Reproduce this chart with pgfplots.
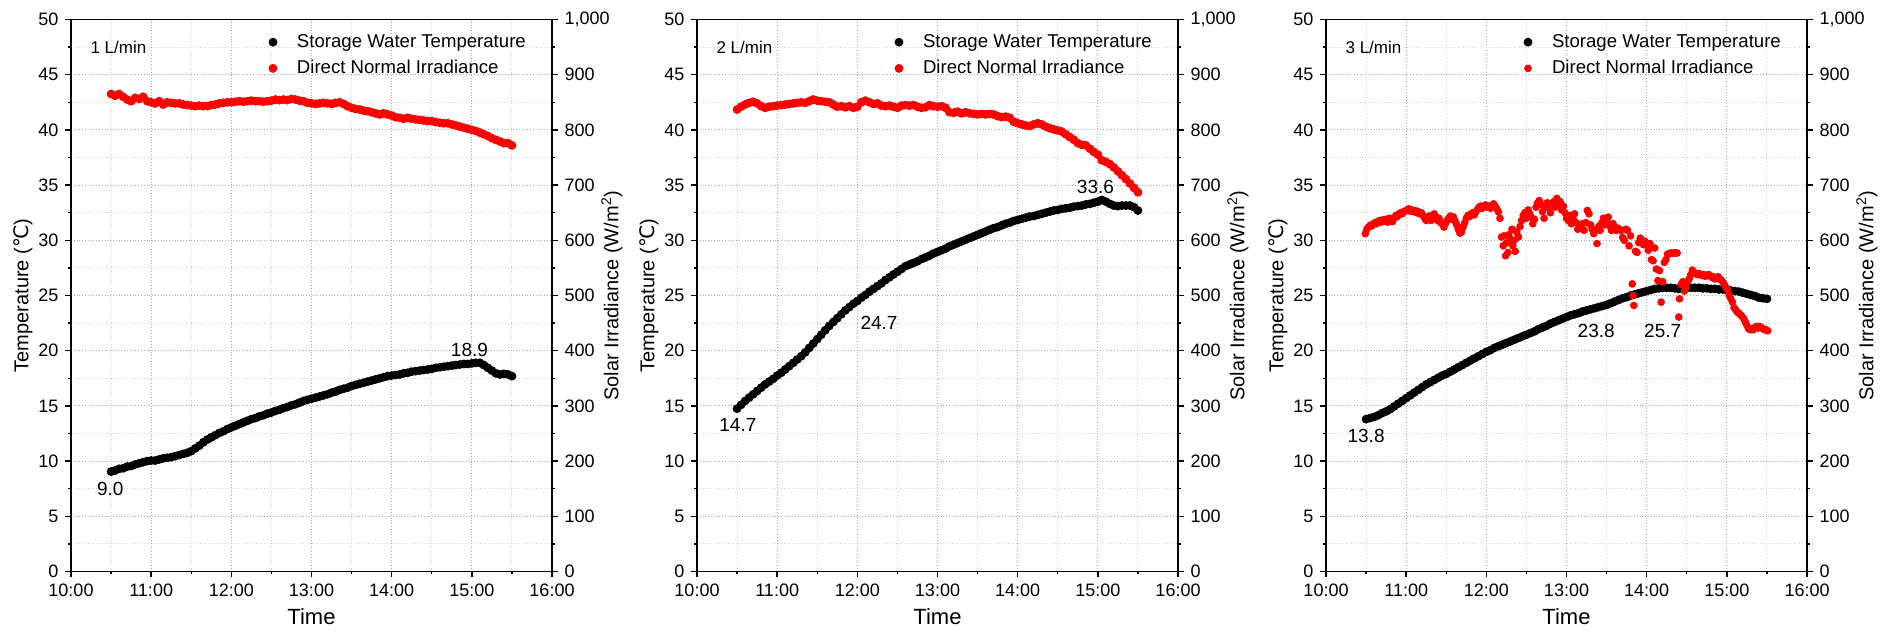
\documentclass[border=0pt]{standalone}
\usepackage{fontspec}
\setmainfont{Liberation Sans}
\newfontfamily\dejavu{DejaVu Sans}
\usepackage{pgfplots}
\usepackage{pgfplotstable}
\pgfplotsset{compat=1.18}

% ---------- 1 L/min ----------
\pgfplotstableread{
t T
10.50 9.05
10.55 9.15
10.60 9.30
10.65 9.35
10.70 9.50
10.75 9.55
10.80 9.70
10.85 9.80
10.90 9.90
10.95 10.00
11.00 10.05
11.05 10.05
11.10 10.15
11.15 10.25
11.20 10.30
11.25 10.35
11.30 10.45
11.35 10.55
11.40 10.65
11.45 10.75
11.50 10.90
11.55 11.15
11.60 11.40
11.65 11.70
11.70 11.95
11.75 12.15
11.80 12.35
11.85 12.55
11.90 12.70
11.95 12.90
12.00 13.05
12.05 13.20
12.10 13.35
12.15 13.50
12.20 13.65
12.25 13.80
12.30 13.90
12.35 14.05
12.40 14.15
12.45 14.30
12.50 14.40
12.55 14.55
12.60 14.65
12.65 14.80
12.70 14.90
12.75 15.05
12.80 15.15
12.85 15.30
12.90 15.45
12.95 15.55
13.00 15.65
13.05 15.75
13.10 15.85
13.15 15.95
13.20 16.05
13.25 16.20
13.30 16.30
13.35 16.45
13.40 16.55
13.45 16.65
13.50 16.80
13.55 16.90
13.60 17.00
13.65 17.10
13.70 17.20
13.75 17.30
13.80 17.40
13.85 17.50
13.90 17.60
13.95 17.70
14.00 17.75
14.05 17.80
14.10 17.85
14.15 17.95
14.20 18.00
14.25 18.10
14.30 18.15
14.35 18.20
14.40 18.25
14.45 18.30
14.50 18.35
14.55 18.45
14.60 18.50
14.65 18.55
14.70 18.60
14.75 18.65
14.80 18.70
14.85 18.75
14.90 18.80
14.95 18.80
15.00 18.85
15.05 18.90
15.10 18.90
15.15 18.70
15.20 18.45
15.25 18.20
15.30 17.95
15.35 17.85
15.40 17.90
15.45 17.85
15.50 17.70
}\tempA

\pgfplotstableread{
t I
10.50 865
10.55 862
10.60 865
10.65 860
10.70 855
10.75 852
10.80 858
10.85 856
10.90 860
10.95 852
11.00 850
11.05 848
11.10 852
11.15 846
11.20 850
11.25 849
11.30 848
11.35 848
11.40 846
11.45 845
11.50 844
11.55 843
11.60 844
11.65 843
11.70 843
11.75 845
11.80 846
11.85 848
11.90 849
11.95 850
12.00 850
12.05 851
12.10 852
12.15 851
12.20 852
12.25 853
12.30 852
12.35 852
12.40 851
12.45 852
12.50 853
12.55 855
12.60 854
12.65 855
12.70 854
12.75 856
12.80 855
12.85 853
12.90 852
12.95 849
13.00 848
13.05 847
13.10 848
13.15 849
13.20 848
13.25 847
13.30 849
13.35 850
13.40 847
13.45 843
13.50 840
13.55 838
13.60 837
13.65 835
13.70 834
13.75 832
13.80 830
13.85 828
13.90 830
13.95 828
14.00 826
14.05 823
14.10 822
14.15 820
14.20 822
14.25 820
14.30 819
14.35 818
14.40 817
14.45 816
14.50 816
14.55 814
14.60 813
14.65 812
14.70 812
14.75 810
14.80 808
14.85 806
14.90 804
14.95 802
15.00 800
15.05 798
15.10 795
15.15 792
15.20 789
15.25 785
15.30 782
15.35 779
15.40 776
15.45 776
15.50 772
}\irrA

% ---------- 2 L/min ----------
\pgfplotstableread{
t T
10.50 14.75
10.55 15.10
10.60 15.45
10.65 15.75
10.70 16.05
10.75 16.35
10.80 16.65
10.85 16.95
10.90 17.20
10.95 17.45
11.00 17.75
11.05 18.00
11.10 18.30
11.15 18.60
11.20 18.90
11.25 19.20
11.30 19.50
11.35 19.85
11.40 20.25
11.45 20.65
11.50 21.05
11.55 21.45
11.60 21.85
11.65 22.25
11.70 22.60
11.75 22.95
11.80 23.30
11.85 23.65
11.90 23.95
11.95 24.25
12.00 24.50
12.05 24.80
12.10 25.05
12.15 25.35
12.20 25.60
12.25 25.85
12.30 26.10
12.35 26.40
12.40 26.65
12.45 26.90
12.50 27.15
12.55 27.40
12.60 27.65
12.65 27.80
12.70 27.95
12.75 28.10
12.80 28.30
12.85 28.45
12.90 28.60
12.95 28.80
13.00 28.95
13.05 29.10
13.10 29.25
13.15 29.45
13.20 29.60
13.25 29.75
13.30 29.90
13.35 30.05
13.40 30.20
13.45 30.35
13.50 30.50
13.55 30.65
13.60 30.80
13.65 30.95
13.70 31.10
13.75 31.20
13.80 31.35
13.85 31.50
13.90 31.60
13.95 31.75
14.00 31.85
14.05 31.95
14.10 32.05
14.15 32.15
14.20 32.20
14.25 32.30
14.30 32.40
14.35 32.50
14.40 32.60
14.45 32.70
14.50 32.75
14.55 32.85
14.60 32.90
14.65 32.95
14.70 33.05
14.75 33.10
14.80 33.15
14.85 33.25
14.90 33.30
14.95 33.40
15.00 33.50
15.05 33.65
15.10 33.50
15.15 33.30
15.20 33.15
15.25 33.10
15.30 33.15
15.35 33.15
15.40 33.15
15.45 33.00
15.50 32.70
}\tempB

\pgfplotstableread{
t I
10.50 837
10.55 842
10.60 846
10.65 849
10.70 851
10.75 848
10.80 843
10.85 840
10.90 842
10.95 843
11.00 844
11.05 845
11.10 846
11.15 847
11.20 848
11.25 849
11.30 850
11.35 849
11.40 852
11.45 855
11.50 853
11.55 852
11.60 851
11.65 850
11.70 846
11.75 842
11.80 843
11.85 841
11.90 843
11.95 840
12.00 842
12.05 850
12.10 853
12.15 850
12.20 847
12.25 848
12.30 844
12.35 843
12.40 844
12.45 842
12.50 840
12.55 844
12.60 845
12.65 844
12.70 845
12.75 842
12.80 840
12.85 841
12.90 845
12.95 843
13.00 842
13.05 843
13.10 840
13.15 832
13.20 831
13.25 833
13.30 830
13.35 832
13.40 830
13.45 829
13.50 828
13.55 829
13.60 828
13.65 829
13.70 828
13.75 825
13.80 823
13.85 824
13.90 822
13.95 815
14.00 812
14.05 810
14.10 808
14.15 807
14.20 810
14.25 812
14.30 810
14.35 806
14.40 803
14.45 801
14.50 799
14.55 797
14.60 792
14.65 787
14.70 782
14.75 776
14.80 773
14.85 772
14.90 766
14.95 760
15.00 755
15.05 745
15.10 742
15.15 738
15.20 732
15.25 725
15.30 718
15.35 711
15.40 703
15.45 695
15.50 687
}\irrB

% ---------- 3 L/min ----------
\pgfplotstableread{
t T
10.50 13.80
10.55 13.90
10.60 14.00
10.65 14.15
10.70 14.35
10.75 14.50
10.80 14.70
10.85 14.95
10.90 15.20
10.95 15.45
11.00 15.70
11.05 15.95
11.10 16.20
11.15 16.45
11.20 16.70
11.25 16.95
11.30 17.15
11.35 17.35
11.40 17.55
11.45 17.75
11.50 17.90
11.55 18.10
11.60 18.30
11.65 18.50
11.70 18.70
11.75 18.90
11.80 19.10
11.85 19.30
11.90 19.50
11.95 19.70
12.00 19.90
12.05 20.05
12.10 20.25
12.15 20.40
12.20 20.55
12.25 20.70
12.30 20.85
12.35 21.00
12.40 21.15
12.45 21.30
12.50 21.45
12.55 21.60
12.60 21.75
12.65 21.95
12.70 22.10
12.75 22.25
12.80 22.45
12.85 22.60
12.90 22.75
12.95 22.90
13.00 23.05
13.05 23.20
13.10 23.30
13.15 23.40
13.20 23.55
13.25 23.65
13.30 23.75
13.35 23.85
13.40 23.95
13.45 24.05
13.50 24.15
13.55 24.30
13.60 24.45
13.65 24.60
13.70 24.75
13.75 24.85
13.80 25.00
13.85 25.10
13.90 25.20
13.95 25.30
14.00 25.40
14.05 25.50
14.10 25.60
14.15 25.65
14.20 25.70
14.25 25.70
14.30 25.70
14.35 25.65
14.40 25.60
14.45 25.65
14.50 25.70
14.55 25.70
14.60 25.70
14.65 25.70
14.70 25.65
14.75 25.65
14.80 25.60
14.85 25.60
14.90 25.55
14.95 25.55
15.00 25.50
15.05 25.45
15.10 25.40
15.15 25.35
15.20 25.25
15.25 25.15
15.30 25.05
15.35 24.95
15.40 24.80
15.45 24.75
15.50 24.70
}\tempC

\pgfplotstableread{
t I
10.49 612
10.51 620
10.53 624
10.55 627
10.57 626
10.59 630
10.61 632
10.63 630
10.65 634
10.67 636
10.69 633
10.71 637
10.73 635
10.75 638
10.77 633
10.79 640
10.81 636
10.83 634
10.85 640
10.87 645
10.89 643
10.91 648
10.93 650
10.95 648
10.97 652
10.99 653
11.01 655
11.03 657
11.05 653
11.07 655
11.09 652
11.11 654
11.13 650
11.15 652
11.17 648
11.19 650
11.21 645
11.23 640
11.25 636
11.27 640
11.29 644
11.31 636
11.33 642
11.35 648
11.37 642
11.39 636
11.41 640
11.43 632
11.45 630
11.47 624
11.49 630
11.51 636
11.53 640
11.55 644
11.57 638
11.59 642
11.61 635
11.63 628
11.65 620
11.67 613
11.69 615
11.71 624
11.73 632
11.75 640
11.77 645
11.79 643
11.81 648
11.83 650
11.85 646
11.87 652
11.89 656
11.91 660
11.93 662
11.95 658
11.97 662
11.99 664
12.01 660
12.03 662
12.05 658
12.07 661
12.09 666
12.11 662
12.13 657
12.15 652
12.17 640
12.19 606
12.21 590
12.22 608
12.24 572
12.25 595
12.27 578
12.28 610
12.30 602
12.32 620
12.33 590
12.35 600
12.36 580
12.38 615
12.40 606
12.42 625
12.44 636
12.46 645
12.48 650
12.50 640
12.52 655
12.54 648
12.56 642
12.58 630
12.60 638
12.62 660
12.64 668
12.66 672
12.68 665
12.70 652
12.72 640
12.74 660
12.76 668
12.78 660
12.80 650
12.82 665
12.84 670
12.86 660
12.88 676
12.90 662
12.92 670
12.94 655
12.96 662
12.98 650
13.00 640
13.02 636
13.04 645
13.06 630
13.08 640
13.10 648
13.12 632
13.14 620
13.16 628
13.18 622
13.20 630
13.22 618
13.24 632
13.26 654
13.28 648
13.30 628
13.32 620
13.34 612
13.36 618
13.38 594
13.40 625
13.42 618
13.44 632
13.46 640
13.48 628
13.50 636
13.52 642
13.54 626
13.56 618
13.58 630
13.60 624
13.62 618
13.64 622
13.66 620
13.68 618
13.70 605
13.72 600
13.74 620
13.76 618
13.78 590
13.80 608
13.82 521
13.83 500
13.84 482
13.86 580
13.88 578
13.90 596
13.92 604
13.94 600
13.96 592
13.98 598
14.00 595
14.02 582
14.04 594
14.06 565
14.08 563
14.10 586
14.12 548
14.14 527
14.16 545
14.18 488
14.20 525
14.22 560
14.24 565
14.26 575
14.28 575
14.30 577
14.32 577
14.34 577
14.36 577
14.38 577
14.40 461
14.41 494
14.43 520
14.45 525
14.47 508
14.49 515
14.51 525
14.53 530
14.55 538
14.57 546
14.59 542
14.61 540
14.63 538
14.65 540
14.67 538
14.69 536
14.71 538
14.73 535
14.75 536
14.77 538
14.79 536
14.81 533
14.83 534
14.85 530
14.87 531
14.89 534
14.91 530
14.93 528
14.95 524
14.97 520
14.99 514
15.01 510
15.03 500
15.05 494
15.07 488
15.09 478
15.11 474
15.13 470
15.15 468
15.17 465
15.19 462
15.21 458
15.23 452
15.25 446
15.27 440
15.29 438
15.31 440
15.33 438
15.35 442
15.37 444
15.39 441
15.41 444
15.43 442
15.45 440
15.47 438
15.49 438
15.51 436
}\irrC

\tikzset{
  vlab/.style={font=\fontsize{9.5}{11}\selectfont},
  flow/.style={anchor=west, font=\fontsize{8.5}{10}\selectfont},
}

\pgfplotsset{
  common/.style={
    scale only axis, width=240.5pt, height=276pt,
    xmin=10, xmax=16,
    tick align=outside,
    major tick length=2.8pt, minor tick length=1.4pt,
    every tick/.style={black, line width=0.7pt},
    axis line style={line width=0.8pt},
    tick label style={font=\fontsize{9}{10}\selectfont},
    label style={font=\fontsize{11}{12}\selectfont},
    /pgf/number format/assume math mode=true,
  },
  leftax/.style={
    common,
    ymin=0, ymax=50,
    xtick={10,...,16},
    xticklabels={10:00,11:00,12:00,13:00,14:00,15:00,16:00},
    ytick={0,5,...,50},
    minor x tick num=1, minor y tick num=1,
    tick pos=left,
    grid=both,
    major grid style={densely dotted, gray!65, line width=0.5pt},
    minor grid style={densely dotted, gray!35, line width=0.5pt},
    xlabel={Time},
    ylabel={Temperature ({\dejavu ℃})},
    every axis y label/.style={at={(axis description cs:-0.0998,0.5)}, rotate=90, anchor=center},
    xlabel style={yshift=1pt},
  },
  rightax/.style={
    common,
    ymin=0, ymax=1000,
    axis x line=none, axis y line*=right,
    ytick={0,100,...,1000}, minor y tick num=1,
    yticklabel style={/pgf/number format/1000 sep={,}},
    ylabel={Solar Irradiance (W/m\textsuperscript{2})},
    every axis y label/.style={at={(axis description cs:1.1247,0.5)}, rotate=90, anchor=center},
    legend style={draw=none, fill=none, at={(axis description cs:0.39,0.985)},
      anchor=north west, font=\fontsize{9.3}{11}\selectfont,
      row sep=1pt, inner sep=1pt},
    legend cell align=left,
  },
  % a single dot, followed by an empty gap before the entry text
  dotlegend/.style={
    legend image code/.code={
      \draw[mark repeat=2, mark phase=2, ##1] plot coordinates {(0pt,0pt) (6pt,0pt) (12pt,0pt)};
      \path[draw=none, fill=none] (0pt,-2pt) rectangle (16pt,2pt);
    },
  },
  tser/.style={only marks, mark=*, mark size=2pt, black, dotlegend},
  iser/.style={only marks, mark=*, mark size=2pt, red, dotlegend},
  iscat/.style={only marks, mark=*, mark size=1.7pt, red, dotlegend},
}

\begin{document}
\begin{tikzpicture}

% ===== 1 L/min =====
\begin{axis}[leftax, at={(35.5pt,0pt)}, anchor=south west]
  \addplot[tser] table[x=t, y=T] {\tempA};
  \node[vlab] at (axis cs:10.49,7.5) {9.0};
  \node[vlab] at (axis cs:14.97,20.1) {18.9};
  \node[flow] at (axis description cs:0.026,0.949) {1 L/min};
\end{axis}
\begin{axis}[rightax, at={(35.5pt,0pt)}, anchor=south west]
  \addlegendimage{tser}
  \addlegendentry{Storage Water Temperature}
  \addplot[iser] table[x=t, y=I] {\irrA};
  \addlegendentry{Direct Normal Irradiance}
\end{axis}

% ===== 2 L/min =====
\begin{axis}[leftax, at={(348.5pt,0pt)}, anchor=south west]
  \addplot[tser] table[x=t, y=T] {\tempB};
  \node[vlab] at (axis cs:10.51,13.3) {14.7};
  \node[vlab] at (axis cs:12.27,22.5) {24.7};
  \node[vlab] at (axis cs:14.97,34.85) {33.6};
  \node[flow] at (axis description cs:0.026,0.949) {2 L/min};
\end{axis}
\begin{axis}[rightax, at={(348.5pt,0pt)}, anchor=south west]
  \addlegendimage{tser}
  \addlegendentry{Storage Water Temperature}
  \addplot[iser] table[x=t, y=I] {\irrB};
  \addlegendentry{Direct Normal Irradiance}
\end{axis}

% ===== 3 L/min =====
\begin{axis}[leftax, at={(663pt,0pt)}, anchor=south west]
  \addplot[tser] table[x=t, y=T] {\tempC};
  \node[vlab] at (axis cs:10.5,12.3) {13.8};
  \node[vlab] at (axis cs:13.37,21.8) {23.8};
  \node[vlab] at (axis cs:14.2,21.8) {25.7};
  \node[flow] at (axis description cs:0.026,0.949) {3 L/min};
\end{axis}
\begin{axis}[rightax, at={(663pt,0pt)}, anchor=south west]
  \addlegendimage{tser}
  \addlegendentry{Storage Water Temperature}
  \addplot[iscat] table[x=t, y=I] {\irrC};
  \addlegendentry{Direct Normal Irradiance}
\end{axis}

\pgfresetboundingbox
\path[use as bounding box] (0pt,-33.25pt) rectangle (944.5pt,285.75pt);
\end{tikzpicture}
\end{document}
